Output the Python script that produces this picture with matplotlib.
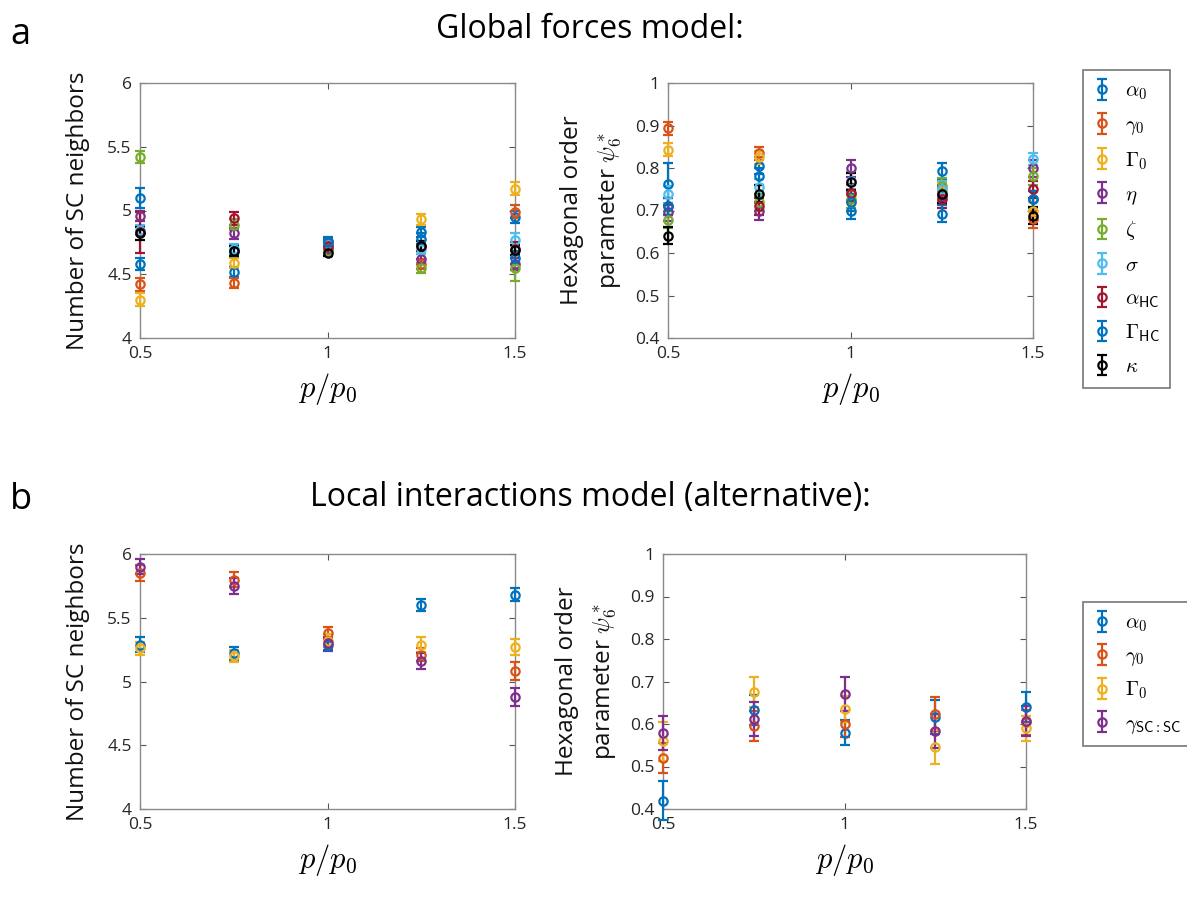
import matplotlib
matplotlib.use("Agg")
import matplotlib.pyplot as plt
import numpy as np

plt.rcParams['mathtext.fontset'] = 'cm'
plt.rcParams['font.family'] = ['Open Sans', 'DejaVu Sans']

x = [0.5, 0.75, 1.0, 1.25, 1.5]
xticks = [0.5, 1, 1.5]
xticklabels = ['0.5', '1', '1.5']
nb_ticks = [4, 4.5, 5, 5.5, 6]
nb_ticklabels = ['4', '4.5', '5', '5.5', '6']
psi_ticks = [0.4, 0.5, 0.6, 0.7, 0.8, 0.9, 1.0]
psi_ticklabels = ['0.4', '0.5', '0.6', '0.7', '0.8', '0.9', '1']

# ---- Panel a: global forces model ----
a_labels = [r'$\alpha_{\mathsf{0}}$', r'$\gamma_{\mathsf{0}}$', r'$\Gamma_{\mathsf{0}}$',
            r'$\eta$', r'$\zeta$', r'$\sigma$', r'$\alpha_{\mathsf{HC}}$',
            r'$\Gamma_{\mathsf{HC}}$', r'$\kappa$']
a_colors = ['#0072BD', '#D95319', '#EDB120', '#7E2F8E', '#77AC30',
            '#4DBEEE', '#A2142F', '#0072BD', '#000000']

a_nb = [
    [5.10, 4.52, 4.76, 4.83, 4.95],
    [4.42, 4.43, 4.74, 4.58, 4.99],
    [4.30, 4.59, 4.70, 4.93, 5.17],
    [4.96, 4.82, 4.70, 4.62, 4.58],
    [5.42, 4.89, 4.68, 4.55, 4.55],
    [4.85, 4.70, 4.73, 4.70, 4.77],
    [4.83, 4.94, 4.72, 4.72, 4.70],
    [4.58, 4.68, 4.75, 4.78, 4.63],
    [4.82, 4.68, 4.67, 4.72, 4.69],
]
a_nb_err = [
    [0.08, 0.04, 0.03, 0.04, 0.05],
    [0.05, 0.04, 0.03, 0.04, 0.05],
    [0.05, 0.04, 0.03, 0.04, 0.05],
    [0.04, 0.04, 0.03, 0.04, 0.05],
    [0.05, 0.04, 0.03, 0.04, 0.10],
    [0.04, 0.04, 0.03, 0.04, 0.05],
    [0.16, 0.05, 0.03, 0.04, 0.05],
    [0.05, 0.04, 0.03, 0.04, 0.05],
    [0.05, 0.04, 0.03, 0.04, 0.04],
]
a_psi = [
    [0.762, 0.805, 0.700, 0.792, 0.726],
    [0.893, 0.835, 0.740, 0.740, 0.680],
    [0.843, 0.825, 0.720, 0.745, 0.700],
    [0.696, 0.698, 0.800, 0.735, 0.799],
    [0.678, 0.720, 0.726, 0.757, 0.781],
    [0.738, 0.755, 0.770, 0.750, 0.821],
    [0.710, 0.710, 0.742, 0.726, 0.750],
    [0.710, 0.781, 0.720, 0.692, 0.726],
    [0.641, 0.740, 0.768, 0.738, 0.688],
]
a_psi_err = [
    [0.05, 0.02, 0.02, 0.02, 0.02],
    [0.015, 0.015, 0.02, 0.02, 0.02],
    [0.015, 0.015, 0.02, 0.02, 0.02],
    [0.02, 0.02, 0.02, 0.02, 0.02],
    [0.02, 0.02, 0.02, 0.02, 0.02],
    [0.02, 0.02, 0.02, 0.02, 0.015],
    [0.02, 0.02, 0.02, 0.02, 0.02],
    [0.02, 0.02, 0.02, 0.02, 0.02],
    [0.02, 0.02, 0.02, 0.02, 0.02],
]

# ---- Panel b: local interactions model ----
b_labels = [r'$\alpha_{\mathsf{0}}$', r'$\gamma_{\mathsf{0}}$', r'$\Gamma_{\mathsf{0}}$',
            r'$\gamma_{\mathsf{SC:SC}}$']
b_colors = ['#0072BD', '#D95319', '#EDB120', '#7E2F8E']
b_nb = [
    [5.29, 5.22, 5.29, 5.60, 5.68],
    [5.85, 5.80, 5.38, 5.21, 5.08],
    [5.26, 5.20, 5.32, 5.29, 5.27],
    [5.90, 5.75, 5.30, 5.16, 4.88],
]
b_nb_err = [
    [0.06, 0.05, 0.05, 0.05, 0.05],
    [0.06, 0.06, 0.05, 0.05, 0.07],
    [0.05, 0.05, 0.05, 0.06, 0.06],
    [0.06, 0.06, 0.05, 0.06, 0.07],
]
b_psi = [
    [0.420, 0.633, 0.580, 0.616, 0.640],
    [0.520, 0.596, 0.600, 0.624, 0.604],
    [0.559, 0.675, 0.635, 0.547, 0.590],
    [0.580, 0.612, 0.671, 0.584, 0.607],
]
b_psi_err = [
    [0.045, 0.035, 0.03, 0.04, 0.035],
    [0.035, 0.035, 0.03, 0.04, 0.03],
    [0.045, 0.035, 0.03, 0.04, 0.03],
    [0.04, 0.04, 0.04, 0.04, 0.035],
]

W, H = 1187, 899
fig = plt.figure(figsize=(W / 100, H / 100), dpi=100)


def add_ax(l, t, r, b):
    return fig.add_axes([l / W, 1 - b / H, (r - l) / W, (b - t) / H])


def style(ax, yticks, yticklabels, ylim):
    ax.set_xlim(0.5, 1.5)
    ax.set_ylim(*ylim)
    ax.set_xticks(xticks)
    ax.set_xticklabels(xticklabels)
    ax.set_yticks(yticks)
    ax.set_yticklabels(yticklabels)
    ax.tick_params(direction='in', top=True, right=True, length=4, width=0.8,
                   color='#555555', labelsize=12.5, labelcolor='#262626', pad=6)
    for s in ax.spines.values():
        s.set_color('#8a8a8a')
        s.set_linewidth(1.0)


def draw(ax, ys, errs, colors, labels):
    handles = []
    for y, e, c, lab in zip(ys, errs, colors, labels):
        h = ax.errorbar(x, y, yerr=e, fmt='o', mfc='none', mec=c, ecolor=c,
                        ms=6, mew=1.6, elinewidth=1.6, capsize=3.5, capthick=1.6,
                        label=lab, clip_on=False, zorder=3)
        for art in h.lines[1] + h.lines[2]:
            art.set_clip_on(False)
        handles.append(h)
    return handles


lab_font = dict(fontsize=17.5, family=['Open Sans', 'DejaVu Sans'], color='#111111')
psi_label = 'Hexagonal order\nparameter $\\psi_6^*$'

# panel a left
ax1 = add_ax(140, 83, 515, 338)
h_a = draw(ax1, a_nb, a_nb_err, a_colors, a_labels)
style(ax1, nb_ticks, nb_ticklabels, (4, 6))
ax1.set_ylabel('Number of SC neighbors', labelpad=12, **lab_font)
ax1.set_xlabel(r'$p/p_0$', fontsize=22, labelpad=6)

# panel a right
ax2 = add_ax(668, 83, 1033, 338)
draw(ax2, a_psi, a_psi_err, a_colors, a_labels)
style(ax2, psi_ticks, psi_ticklabels, (0.4, 1.0))
ax2.set_ylabel(psi_label, labelpad=8, linespacing=1.7, **lab_font)
ax2.set_xlabel(r'$p/p_0$', fontsize=22, labelpad=6)

# panel b left
ax3 = add_ax(140, 554, 515, 809)
h_b = draw(ax3, b_nb, b_nb_err, b_colors, b_labels)
style(ax3, nb_ticks, nb_ticklabels, (4, 6))
ax3.set_ylabel('Number of SC neighbors', labelpad=12, **lab_font)
ax3.set_xlabel(r'$p/p_0$', fontsize=22, labelpad=6)

# panel b right
ax4 = add_ax(663, 554, 1026, 809)
draw(ax4, b_psi, b_psi_err, b_colors, b_labels)
style(ax4, psi_ticks, psi_ticklabels, (0.4, 1.0))
ax4.set_ylabel(psi_label, labelpad=8, linespacing=1.7, **lab_font)
ax4.set_xlabel(r'$p/p_0$', fontsize=22, labelpad=6)

# legends
leg_kw = dict(loc='upper left', frameon=True, fancybox=False, edgecolor='#555555',
              fontsize=15, handlelength=0.8, handletextpad=0.7, borderpad=0.5,
              borderaxespad=0.0)
lga = fig.legend(handles=h_a, bbox_to_anchor=(1083 / W, 1 - 70 / H),
                 labelspacing=0.6, **leg_kw)
lga.get_frame().set_linewidth(1.2)
lgb = fig.legend(handles=h_b, bbox_to_anchor=(1083 / W, 1 - 602 / H),
                 labelspacing=0.55, **leg_kw)
lgb.get_frame().set_linewidth(1.2)

# titles and panel letters
fig.text(590 / W, 1 - 30 / H, 'Global forces model:', ha='center', va='center',
         fontsize=23, family=['Open Sans', 'DejaVu Sans'])
fig.text(590 / W, 1 - 497 / H, 'Local interactions model (alternative):', ha='center',
         va='center', fontsize=23, family=['Open Sans', 'DejaVu Sans'])
fig.text(10 / W, 1 - 35 / H, 'a', ha='left', va='center', fontsize=26,
         family=['Open Sans', 'DejaVu Sans'])
fig.text(10 / W, 1 - 500 / H, 'b', ha='left', va='center', fontsize=26,
         family=['Open Sans', 'DejaVu Sans'])

fig.savefig('out.png', dpi=100)
